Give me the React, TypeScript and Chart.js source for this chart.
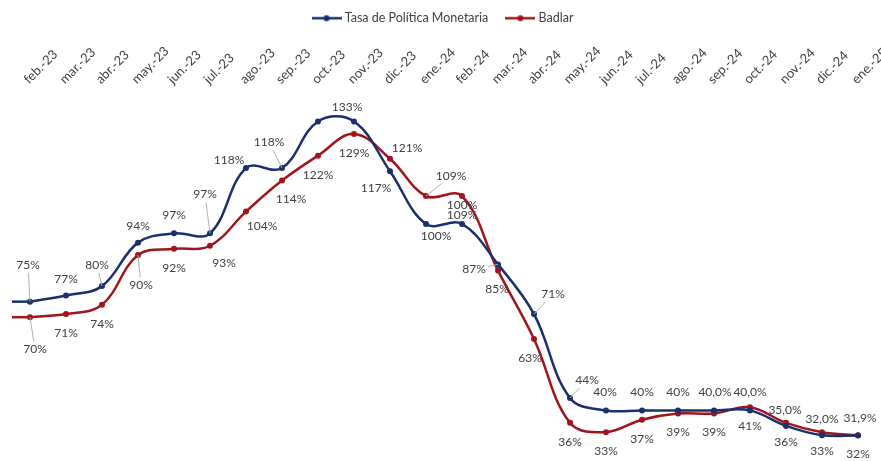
import { useEffect, useRef } from "react";
import { Chart, registerables } from "chart.js";

Chart.register(...registerables);

const months = [
  "feb.-23", "mar.-23", "abr.-23", "may.-23", "jun.-23", "jul.-23", "ago.-23", "sep.-23",
  "oct.-23", "nov.-23", "dic.-23", "ene.-24", "feb.-24", "mar.-24", "abr.-24", "may.-24",
  "jun.-24", "jul.-24", "ago.-24", "sep.-24", "oct.-24", "nov.-24", "dic.-24", "ene.-25",
];

const tpm = [75, 77, 80, 94, 97, 97, 118, 118, 133, 133, 117, 100, 100, 87, 71, 44, 40, 40, 40, 40, 40, 35, 32, 31.9];
const badlar = [70, 71, 74, 90, 92, 93, 104, 114, 122, 129, 121, 109, 109, 85, 63, 36, 33, 37, 39, 39, 41, 36, 33, 32];

// decimals shown in each data label
const tpmDecimals = [0, 0, 0, 0, 0, 0, 0, 0, 0, 0, 0, 0, 0, 0, 0, 0, 0, 0, 0, 1, 1, 1, 1, 1];
const badlarDecimals = badlar.map(() => 0);

// label placement relative to the point: [dx, dy, leaderLine]
const tpmLabelPos: (number[] | null)[] = [
  [-2, -37, 1], [0, -16], [-5, -21, 1], [0, -17], [0, -18], [-5, -39, 1], [-17, -8], [-13, -26, 1],
  null, [-7, -14], [-14, 17], [10, 12], [0, -19], [-24, 5, 1], [19, -20, 1], [17, -18, 1],
  [-1, -18], [0, -18], [0, -18], [1, -18], [0, -18], [-1, -16], [0, -16], [2, -17],
];
const badlarLabelPos: (number[] | null)[] = [
  [5, 32, 1], [0, 19], [0, 19], [3, 30, 1], [0, 19], [14, 17], [16, 15], [9, 19],
  [0, 19], [0, 19], [17, -11], [25, -20, 1], [0, 19], [-1, 19], [-4, 19], [0, 19],
  [0, 19], [0, 19], [0, 19], [0, 19], [0, 19], [0, 19], [0, 19], [0, 19],
];

const BLUE = "#1B2F6E";
const RED = "#A0141B";
const TEXT = "#404040";
const FONT = "Lato, 'Open Sans', sans-serif";

function marker(color: string) {
  const c = document.createElement("canvas");
  c.width = 30;
  c.height = 8;
  const ctx = c.getContext("2d")!;
  ctx.strokeStyle = color;
  ctx.lineWidth = 2.5;
  ctx.beginPath();
  ctx.moveTo(0, 4);
  ctx.lineTo(30, 4);
  ctx.stroke();
  ctx.fillStyle = color;
  ctx.beginPath();
  ctx.arc(15, 4, 3, 0, Math.PI * 2);
  ctx.fill();
  return c;
}

function fmt(v: number, d: number) {
  return v.toFixed(d).replace(".", ",") + "%";
}

const leadInPlugin = {
  id: "leadIn",
  beforeDatasetsDraw(chart: any) {
    const ctx = chart.ctx;
    chart.data.datasets.forEach((ds: any, i: number) => {
      const meta = chart.getDatasetMeta(i);
      const p = meta.data[0];
      if (!p) return;
      ctx.save();
      ctx.strokeStyle = ds.borderColor;
      ctx.lineWidth = ds.borderWidth;
      ctx.beginPath();
      ctx.moveTo(chart.chartArea.left, p.y);
      ctx.lineTo(p.x, p.y);
      ctx.stroke();
      ctx.restore();
    });
  },
};

// month labels on the top axis, written upward from the category position
const monthLabelPlugin = {
  id: "monthLabels",
  afterDraw(chart: any) {
    const ctx = chart.ctx;
    const xs = chart.scales.x;
    const baseY = xs.bottom - 9;
    ctx.save();
    ctx.font = `13px ${FONT}`;
    ctx.fillStyle = TEXT;
    ctx.textAlign = "left";
    ctx.textBaseline = "alphabetic";
    months.forEach((m, i) => {
      const x = xs.getPixelForValue(i);
      ctx.save();
      ctx.translate(x - 1, baseY);
      ctx.rotate(-Math.PI / 4);
      ctx.fillText(m, 0, 0);
      ctx.restore();
    });
    ctx.restore();
  },
};

const labelPlugin = {
  id: "dataLabels",
  afterDatasetsDraw(chart: any) {
    const ctx = chart.ctx;
    const sets = [
      { vals: tpm, dec: tpmDecimals, pos: tpmLabelPos },
      { vals: badlar, dec: badlarDecimals, pos: badlarLabelPos },
    ];
    ctx.save();
    ctx.font = `12px ${FONT}`;
    ctx.textAlign = "center";
    ctx.textBaseline = "middle";
    sets.forEach((s, di) => {
      const meta = chart.getDatasetMeta(di);
      s.vals.forEach((v, i) => {
        const pos = s.pos[i];
        if (!pos) return;
        const pt = meta.data[i];
        const cx = pt.x + pos[0];
        const cy = pt.y + pos[1];
        const text = fmt(v, s.dec[i]);
        if (pos[2]) {
          const w = ctx.measureText(text).width / 2 + 2;
          const h = 8;
          const dx = cx - pt.x;
          const dy = cy - pt.y;
          const t = Math.min(dx !== 0 ? w / Math.abs(dx) : Infinity, dy !== 0 ? h / Math.abs(dy) : Infinity);
          ctx.strokeStyle = "#B0B0B0";
          ctx.lineWidth = 1;
          ctx.beginPath();
          ctx.moveTo(pt.x, pt.y);
          ctx.lineTo(cx - dx * t, cy - dy * t);
          ctx.stroke();
        }
        ctx.fillStyle = TEXT;
        ctx.fillText(text, cx, cy);
      });
    });
    ctx.restore();
  },
};

export default function App() {
  const ref = useRef<HTMLCanvasElement>(null);

  useEffect(() => {
    const chart = new Chart(ref.current!, {
      type: "line",
      data: {
        datasets: [
          {
            label: "Tasa de Política Monetaria",
            data: tpm.map((v, i) => ({ x: i, y: v })),
            borderColor: BLUE,
            backgroundColor: BLUE,
            borderWidth: 2.5,
            pointRadius: 3,
            pointBorderWidth: 0,
            tension: 0.38,
          },
          {
            label: "Badlar",
            data: badlar.map((v, i) => ({ x: i, y: v })),
            borderColor: RED,
            backgroundColor: RED,
            borderWidth: 2.5,
            pointRadius: 3,
            pointBorderWidth: 0,
            tension: 0.38,
          },
        ],
      },
      options: {
        responsive: false,
        animation: false,
        layout: { padding: { top: -8, left: 12, right: 5, bottom: 2 } },
        plugins: {
          tooltip: { enabled: false },
          legend: {
            position: "top",
            labels: {
              usePointStyle: true,
              pointStyleWidth: 24,
              boxHeight: 8,
              padding: 20,
              color: TEXT,
              font: { family: FONT, size: 12.5 },
              generateLabels: (c: any) =>
                c.data.datasets.map((ds: any, i: number) => ({
                  text: ds.label,
                  pointStyle: marker(ds.borderColor),
                  fillStyle: ds.borderColor,
                  strokeStyle: ds.borderColor,
                  lineWidth: 0,
                  hidden: false,
                  datasetIndex: i,
                  fontColor: TEXT,
                })),
            },
          },
        },
        scales: {
          x: {
            type: "linear",
            position: "top",
            min: -0.5,
            max: 23.5,
            grid: { display: false, drawTicks: false },
            border: { display: false },
            ticks: { display: false },
            afterBuildTicks: (s: any) => {
              s.ticks = months.map((_, i) => ({ value: i }));
            },
            afterFit: (s: any) => {
              s.paddingLeft = 0;
              s.paddingRight = 0;
              s.height = 59;
            },
          },
          y: { display: false, min: 25, max: 142 },
        },
      },
      plugins: [leadInPlugin, labelPlugin, monthLabelPlugin],
    });
    return () => chart.destroy();
  }, []);

  return (
    <div style={{ position: "absolute", left: 0, top: 0, width: 881, height: 461, background: "#fff" }}>
      <canvas ref={ref} width={881} height={461} style={{ display: "block" }} />
    </div>
  );
}
